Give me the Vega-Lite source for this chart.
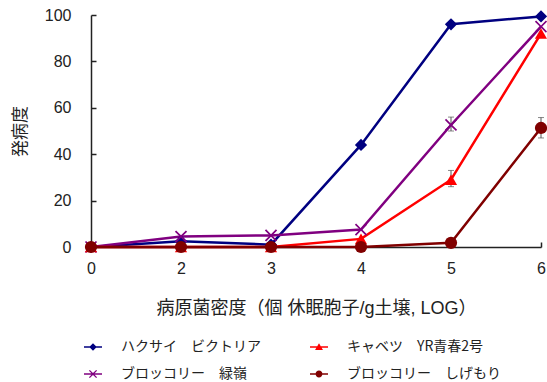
{
  "$schema": "https://vega.github.io/schema/vega-lite/v6.json",
  "width": 450,
  "height": 232,
  "autosize": {"type": "none"},
  "padding": {"left": 91, "top": 15, "right": 6, "bottom": 135},
  "background": "white",
  "config": {
    "view": {"stroke": null},
    "font": "Liberation Sans",
    "axis": {"domainColor": "#222", "domainWidth": 1.5, "tickColor": "#222", "tickWidth": 1.5, "labelColor": "#222", "titleColor": "#222", "grid": false}
  },
  "data": {
    "values": [
      {"x": "0", "series": "ハクサイ　ビクトリア", "y": 0},
      {"x": "2", "series": "ハクサイ　ビクトリア", "y": 2.5},
      {"x": "3", "series": "ハクサイ　ビクトリア", "y": 1},
      {"x": "4", "series": "ハクサイ　ビクトリア", "y": 44},
      {"x": "5", "series": "ハクサイ　ビクトリア", "y": 96},
      {"x": "6", "series": "ハクサイ　ビクトリア", "y": 99.4},
      {"x": "0", "series": "ブロッコリー　緑嶺", "y": 0},
      {"x": "2", "series": "ブロッコリー　緑嶺", "y": 4.5},
      {"x": "3", "series": "ブロッコリー　緑嶺", "y": 5},
      {"x": "4", "series": "ブロッコリー　緑嶺", "y": 7.5},
      {"x": "5", "series": "ブロッコリー　緑嶺", "y": 52.6, "lo": 50, "hi": 56},
      {"x": "6", "series": "ブロッコリー　緑嶺", "y": 95},
      {"x": "0", "series": "キャベツ　YR青春2号", "y": 0},
      {"x": "2", "series": "キャベツ　YR青春2号", "y": 0},
      {"x": "3", "series": "キャベツ　YR青春2号", "y": 0},
      {"x": "4", "series": "キャベツ　YR青春2号", "y": 3.5},
      {"x": "5", "series": "キャベツ　YR青春2号", "y": 29, "lo": 26, "hi": 33},
      {"x": "6", "series": "キャベツ　YR青春2号", "y": 92},
      {"x": "0", "series": "ブロッコリー　しげもり", "y": 0},
      {"x": "2", "series": "ブロッコリー　しげもり", "y": 0},
      {"x": "3", "series": "ブロッコリー　しげもり", "y": 0},
      {"x": "4", "series": "ブロッコリー　しげもり", "y": 0},
      {"x": "5", "series": "ブロッコリー　しげもり", "y": 1.8},
      {"x": "6", "series": "ブロッコリー　しげもり", "y": 51.3, "lo": 47, "hi": 55.8}
    ]
  },
  "encoding": {
    "x": {
      "field": "x", "type": "ordinal",
      "scale": {"type": "point", "padding": 0, "domain": ["0", "2", "3", "4", "5", "6"]},
      "axis": {"title": "病原菌密度（個 休眠胞子/g土壌, LOG）", "labelAngle": 0, "labelFontSize": 16, "labelPadding": 18, "tickSize": -5, "titleFontSize": 18, "titleFont": "Liberation Sans, Noto Sans CJK JP", "titleFontWeight": "normal", "titlePadding": 23}
    },
    "y": {
      "field": "y", "type": "quantitative",
      "scale": {"domain": [0, 100], "nice": false},
      "axis": {"title": "発病度", "values": [0, 20, 40, 60, 80, 100], "labelFontSize": 16, "labelPadding": 25, "tickSize": -5, "titleFontSize": 17, "titleFont": "Noto Sans CJK JP", "titleFontWeight": "normal", "titlePadding": 15}
    }
  },
  "layer": [
    {
      "mark": {"type": "line", "strokeWidth": 2.5},
      "encoding": {
        "color": {
          "field": "series", "type": "nominal", "legend": null,
          "scale": {"domain": ["ハクサイ　ビクトリア", "キャベツ　YR青春2号", "ブロッコリー　緑嶺", "ブロッコリー　しげもり"], "range": ["#000080", "#FF0000", "#800080", "#800000"]}
        }
      }
    },
    {
      "transform": [{"filter": "datum.lo != null"}],
      "mark": {"type": "errorbar", "ticks": {"size": 6}, "color": "#555", "thickness": 1},
      "encoding": {
        "y": {"field": "lo", "type": "quantitative"},
        "y2": {"field": "hi"}
      }
    },
    {
      "mark": {"type": "point", "filled": true, "opacity": 1, "size": 150},
      "encoding": {
        "color": {
          "field": "series", "type": "nominal", "legend": null,
          "scale": {"domain": ["ハクサイ　ビクトリア", "キャベツ　YR青春2号", "ブロッコリー　緑嶺", "ブロッコリー　しげもり"], "range": ["#000080", "#FF0000", "#800080", "#800000"]}
        },
        "shape": {
          "field": "series", "type": "nominal", "legend": null,
          "scale": {"domain": ["ハクサイ　ビクトリア", "キャベツ　YR青春2号", "ブロッコリー　緑嶺", "ブロッコリー　しげもり"],
                    "range": ["diamond", "triangle-up", "M-1,-0.8L-0.8,-1L0,-0.2L0.8,-1L1,-0.8L0.2,0L1,0.8L0.8,1L0,0.2L-0.8,1L-1,0.8L-0.2,0Z", "circle"]}
        }
      }
    },
    {
      "mark": {"type": "point", "filled": true, "opacity": 1, "size": 0},
      "encoding": {
        "color": {
          "field": "series", "type": "nominal",
          "scale": {"domain": ["ハクサイ　ビクトリア", "キャベツ　YR青春2号", "ブロッコリー　緑嶺", "ブロッコリー　しげもり"], "range": ["#000080", "#FF0000", "#800080", "#800000"]},
          "legend": {"title": null, "orient": "none", "legendX": -7, "legendY": 323, "columns": 2, "direction": "horizontal", "columnPadding": 49, "rowPadding": 11, "labelFontSize": 14, "labelFont": "Noto Sans CJK JP", "labelColor": "#222", "labelOffset": 19, "symbolSize": 324, "symbolOpacity": 1, "symbolStrokeWidth": 0, "padding": 0, "labelLimit": 300}
        },
        "shape": {
          "field": "series", "type": "nominal",
          "scale": {"domain": ["ハクサイ　ビクトリア", "キャベツ　YR青春2号", "ブロッコリー　緑嶺", "ブロッコリー　しげもり"],
                    "range": [
                      "M-1,-0.09L1,-0.09L1,0.09L-1,0.09Z M0,-0.42L0.42,0L0,0.42L-0.42,0Z",
                      "M-1,-0.09L1,-0.09L1,0.09L-1,0.09Z M0,-0.42L0.44,0.32L-0.44,0.32Z",
                      "M-1,-0.09L1,-0.09L1,0.09L-1,0.09Z M-0.35,-0.45L0,-0.1L0.35,-0.45L0.45,-0.35L0.1,0L0.45,0.35L0.35,0.45L0,0.1L-0.35,0.45L-0.45,0.35L-0.1,0L-0.45,-0.35Z",
                      "M-1,-0.09L1,-0.09L1,0.09L-1,0.09Z M-0.38,0A0.38,0.38,0,1,1,0.38,0A0.38,0.38,0,1,1,-0.38,0Z"
                    ]},
          "legend": {"title": null, "orient": "none", "legendX": -7, "legendY": 323, "columns": 2, "direction": "horizontal", "columnPadding": 49, "rowPadding": 11, "labelFontSize": 14, "labelFont": "Noto Sans CJK JP", "labelColor": "#222", "labelOffset": 19, "symbolSize": 324, "symbolOpacity": 1, "symbolStrokeWidth": 0, "padding": 0, "labelLimit": 300}
        }
      }
    }
  ],
  "resolve": {"scale": {"shape": "independent", "color": "independent"}}
}
